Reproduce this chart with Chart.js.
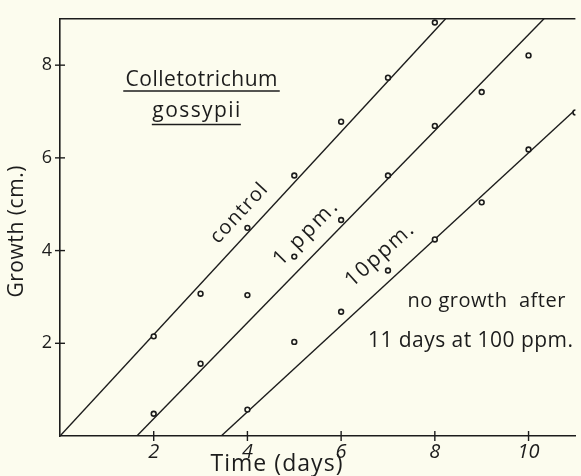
<!DOCTYPE html>
<html>
<head>
<meta charset="utf-8">
<script src="https://cdn.jsdelivr.net/npm/chart.js@4"></script>
<style>
  html, body { margin: 0; padding: 0; background: #fcfcee; }
  canvas { display: block; }
</style>
</head>
<body>
<canvas id="growthChart" width="581" height="476"></canvas>
<script>
  "use strict";

  // growth of Colletotrichum gossypii (cm) by day
  const controlDays = [2, 3, 4, 5, 6, 7, 8];
  const controlGrowth = [2.15, 3.07, 4.49, 5.62, 6.78, 7.73, 8.92];
  const ppm1Days = [2, 3, 4, 5, 6, 7, 8, 9, 10];
  const ppm1Growth = [0.48, 1.56, 3.04, 3.87, 4.66, 5.62, 6.69, 7.42, 8.21];
  const ppm10Days = [4, 5, 6, 7, 8, 9, 10, 11];
  const ppm10Growth = [0.57, 2.03, 2.68, 3.57, 4.24, 5.04, 6.18, 6.98];

  // fitted lines, [day, cm] end points
  const controlLine = [[0, 0], [8.23, 9]];
  const ppm1Line = [[1.64, 0], [10.33, 9]];
  const ppm10Line = [[3.44, 0], [10.98, 7.02]];

  const xTicks = [2, 4, 6, 8, 10];
  const yTicks = [2, 4, 6, 8];

  const INK = "#1c1c1c";
  const FONT = "'Open Sans', 'DejaVu Sans', sans-serif";

  const toPoints = (xs, ys) => xs.map((x, i) => ({ x: x, y: ys[i] }));
  const toLine = pts => pts.map(p => ({ x: p[0], y: p[1] }));

  const lineSet = pts => ({
    data: toLine(pts),
    showLine: true,
    borderColor: INK,
    borderWidth: 1.4,
    pointRadius: 0,
    order: 2
  });
  const pointSet = (xs, ys) => ({
    data: toPoints(xs, ys),
    showLine: false,
    pointRadius: 2.4,
    pointBorderWidth: 1.6,
    pointBorderColor: INK,
    pointBackgroundColor: "#fcfcee",
    order: 1
  });

  // text placed in data units
  const notes = [
    { text: "Colletotrichum", x: 3.02, y: 7.68, angle: 0, size: 21, width: 152 },
    { text: "gossypii", x: 2.91, y: 7.00, angle: 0, size: 21, width: 88 },
    { text: "control", x: 3.82, y: 4.80, angle: 47, size: 20, width: 74 },
    { text: "1 ppm.", x: 5.24, y: 4.37, angle: 45.5, size: 21, width: 82 },
    { text: "10ppm.", x: 6.82, y: 3.90, angle: 42, size: 21, width: 84 },
    { text: "no growth  after", x: 9.10, y: 2.90, angle: 0, size: 20, width: 158 },
    { text: "11 days at 100 ppm.", x: 8.76, y: 2.05, angle: 0, size: 21, width: 205 }
  ];
  const underlines = [
    { x1: 1.35, x2: 4.69, y: 7.44 },
    { x1: 1.96, x2: 3.86, y: 6.72 }
  ];

  function spacedText(ctx, text, cx, cy, angle, size, width) {
    ctx.save();
    ctx.translate(cx, cy);
    ctx.rotate(-angle * Math.PI / 180);
    ctx.font = size + "px " + FONT;
    ctx.letterSpacing = "0px";
    const w = ctx.measureText(text).width;
    const ls = text.length > 1 ? (width - w) / (text.length - 1) : 0;
    ctx.letterSpacing = ls + "px";
    ctx.fillStyle = INK;
    ctx.textAlign = "left";
    ctx.textBaseline = "middle";
    ctx.fillText(text, -width / 2, 0);
    ctx.restore();
  }

  const decorations = {
    id: "decorations",
    beforeDraw(chart) {
      const ctx = chart.ctx;
      ctx.save();
      ctx.fillStyle = "#fcfcee";
      ctx.fillRect(0, 0, chart.width, chart.height);
      ctx.restore();
    },
    afterDraw(chart) {
      const ctx = chart.ctx;
      const xs = chart.scales.x, ys = chart.scales.y;
      const area = chart.chartArea;
      ctx.save();
      ctx.strokeStyle = INK;
      ctx.lineWidth = 1.6;
      // top frame line
      ctx.beginPath();
      ctx.moveTo(area.left, area.top);
      ctx.lineTo(area.right, area.top);
      ctx.stroke();
      // ticks crossing the axes
      ctx.lineWidth = 1.4;
      yTicks.forEach(v => {
        const p = ys.getPixelForValue(v);
        ctx.beginPath();
        ctx.moveTo(area.left - 5, p);
        ctx.lineTo(area.left + 5, p);
        ctx.stroke();
      });
      xTicks.forEach(v => {
        const p = xs.getPixelForValue(v);
        ctx.beginPath();
        ctx.moveTo(p, area.bottom - 5);
        ctx.lineTo(p, area.bottom + 5);
        ctx.stroke();
      });
      // underlines of the species name
      ctx.lineWidth = 1.5;
      underlines.forEach(u => {
        const py = ys.getPixelForValue(u.y);
        ctx.beginPath();
        ctx.moveTo(xs.getPixelForValue(u.x1), py);
        ctx.lineTo(xs.getPixelForValue(u.x2), py);
        ctx.stroke();
      });
      ctx.restore();

      notes.forEach(n => spacedText(ctx, n.text, xs.getPixelForValue(n.x),
        ys.getPixelForValue(n.y), n.angle, n.size, n.width));

      // axis titles
      spacedText(ctx, "Time (days)", xs.getPixelForValue(4.62), area.bottom + 28, 0, 23, 132);
      spacedText(ctx, "Growth (cm.)", 17, ys.getPixelForValue(4.41), 90, 21, 132);
    }
  };

  new Chart(document.getElementById("growthChart"), {
    type: "scatter",
    data: {
      datasets: [
        lineSet(controlLine),
        lineSet(ppm1Line),
        lineSet(ppm10Line),
        pointSet(controlDays, controlGrowth),
        pointSet(ppm1Days, ppm1Growth),
        pointSet(ppm10Days, ppm10Growth)
      ]
    },
    options: {
      responsive: false,
      animation: false,
      devicePixelRatio: 1,
      layout: { padding: { top: 14, right: 0, left: 0, bottom: 0 } },
      plugins: {
        legend: { display: false },
        tooltip: { enabled: false }
      },
      scales: {
        x: {
          type: "linear",
          min: 0,
          max: 11,
          afterFit: s => { s.height = 40; },
          afterBuildTicks: s => { s.ticks = xTicks.map(v => ({ value: v })); },
          grid: { display: false, drawTicks: false },
          border: { display: true, color: INK, width: 1.6 },
          ticks: {
            color: INK,
            padding: 4,
            font: { family: FONT, size: 20, style: "italic" }
          }
        },
        y: {
          type: "linear",
          min: 0,
          max: 9,
          afterFit: s => { s.width = 60; },
          afterBuildTicks: s => { s.ticks = yTicks.map(v => ({ value: v })); },
          grid: { display: false, drawTicks: false },
          border: { display: true, color: INK, width: 1.6 },
          ticks: {
            color: INK,
            padding: 8,
            font: { family: FONT, size: 18 }
          }
        }
      }
    },
    plugins: [decorations]
  });
</script>
</body>
</html>
